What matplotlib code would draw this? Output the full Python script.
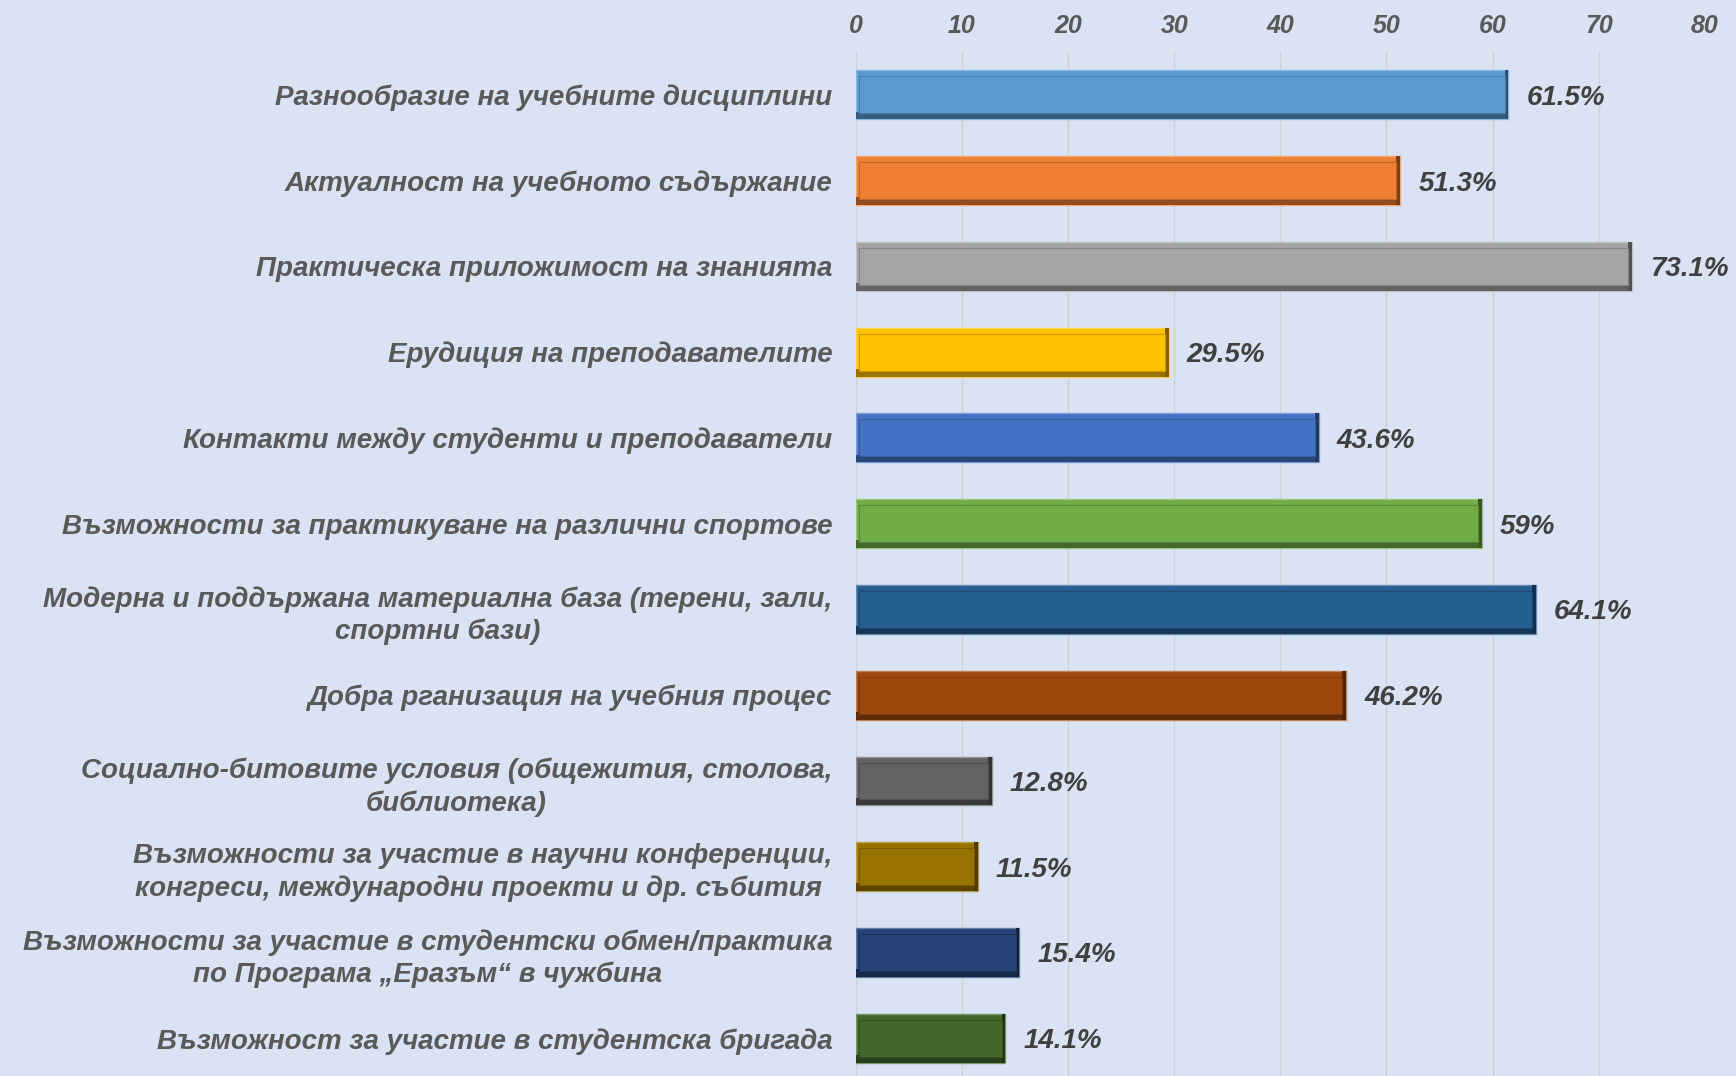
import matplotlib.pyplot as plt
from matplotlib import font_manager

# data
categories = [
    "Разнообразие на учебните дисциплини",
    "Актуалност на учебното съдържание",
    "Практическа приложимост на знанията",
    "Ерудиция на преподавателите",
    "Контакти между студенти и преподаватели",
    "Възможности за практикуване на различни спортове",
    "Модерна и поддържана материална база (терени, зали,\nспортни бази)",
    "Добра рганизация на учебния процес",
    "Социално-битовите условия (общежития, столова,\nбиблиотека)",
    "Възможности за участие в научни конференции,\nконгреси, международни проекти и др. събития ",
    "Възможности за участие в студентски обмен/практика\nпо Програма „Еразъм“ в чужбина",
    "Възможност за участие в студентска бригада",
]
values = [61.5, 51.3, 73.1, 29.5, 43.6, 59, 64.1, 46.2, 12.8, 11.5, 15.4, 14.1]
value_labels = ["61.5%", "51.3%", "73.1%", "29.5%", "43.6%", "59%",
                "64.1%", "46.2%", "12.8%", "11.5%", "15.4%", "14.1%"]
colors = ["#5b9bd5", "#f07f33", "#a5a5a5", "#ffc000", "#4472c4", "#70ad47",
          "#255e91", "#9e480e", "#636363", "#997300", "#264478", "#43682b"]
xticks = [0, 10, 20, 30, 40, 50, 60, 70, 80]

names = {f.name for f in font_manager.fontManager.ttflist}
font = "Liberation Sans Narrow" if "Liberation Sans Narrow" in names else "Liberation Sans"

bg = "#dae3f3"
fig = plt.figure(figsize=(17.36, 10.76), dpi=100, facecolor=bg)
ax = fig.add_axes([0.493, 0.0, 0.489, 0.9517], facecolor=bg)

ypos = list(range(len(values)))
h = 0.57


def shade(c, f):
    r, g, b = int(c[1:3], 16), int(c[3:5], 16), int(c[5:7], 16)
    return (r * f / 255, g * f / 255, b * f / 255)


def tint(c, f):
    r, g, b = int(c[1:3], 16) / 255, int(c[3:5], 16) / 255, int(c[5:7], 16) / 255
    return (r + (1 - r) * f, g + (1 - g) * f, b + (1 - b) * f)


for y, v, c in zip(ypos, values, colors):
    # bar with a simple bevel look
    ax.barh(y, v, height=h, color=c, edgecolor=tint(c, 0.3), linewidth=1.0, zorder=3)
    ax.barh(y + h / 2 - 0.045, v, height=0.09, color=shade(c, 0.6), linewidth=0, zorder=4)
    ax.barh(y, 0.35, left=v - 0.35, height=h, color=shade(c, 0.5), linewidth=0, zorder=4)
    ax.barh(y, v - 0.65, left=0.3, height=h - 0.14, color=c, edgecolor=shade(c, 0.8),
            linewidth=0.8, zorder=5)

for y, v, lab in zip(ypos, values, value_labels):
    ax.text(v + 1.7, y, lab, va="center_baseline", ha="left", fontsize=20,
            fontweight="bold", fontstyle="italic", color="#404040", family=font)

ax.set_xlim(0, 80)
ax.set_ylim(11.44, -0.5)
ax.set_xticks(xticks)
ax.xaxis.tick_top()
ax.set_yticks(ypos)
ax.set_yticklabels(categories, fontsize=20, fontweight="bold", fontstyle="italic",
                   color="#595959", family=font, ha="right", multialignment="center",
                   linespacing=1.3)
ax.tick_params(axis="y", length=0, pad=17)
ax.tick_params(axis="x", length=0, pad=10, labelsize=18, labelcolor="#595959")
for t in ax.get_xticklabels():
    t.set_fontweight("bold")
    t.set_fontstyle("italic")
    t.set_family(font)
for s in ax.spines.values():
    s.set_visible(False)
ax.grid(axis="x", color="#d0d0d0", linewidth=1, zorder=0)

fig.savefig("out.png", dpi=100, facecolor=bg)
